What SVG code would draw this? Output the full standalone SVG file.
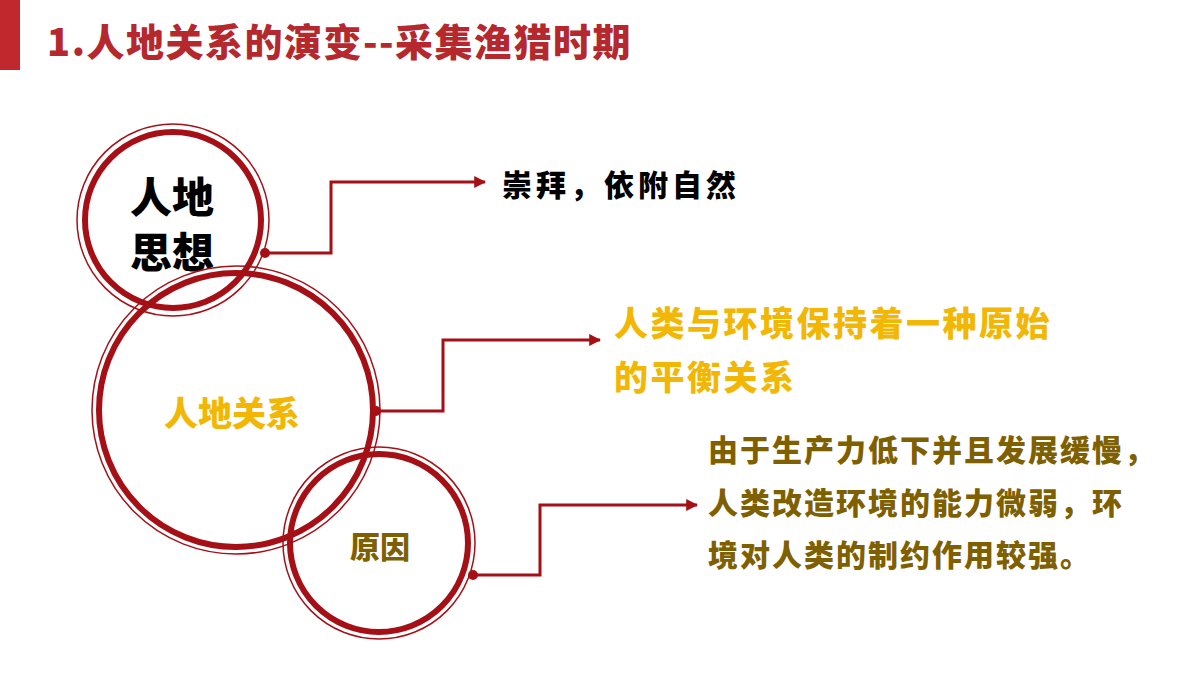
<svg xmlns="http://www.w3.org/2000/svg" width="1200" height="675" viewBox="0 0 1200 675">
<defs>
<style>
text{font-family:"Noto Sans CJK SC","Liberation Sans",sans-serif;font-weight:900}
.thick{fill:none;stroke:#A50F16;stroke-width:6}
.thin{fill:none;stroke:#A50F16;stroke-width:1.5}
.conn{fill:none;stroke:#A50F16;stroke-width:3}
</style>
<marker id="ar" viewBox="0 0 10 10" refX="9" refY="5" markerWidth="4" markerHeight="4" orient="auto"><path d="M0,0L10,5L0,10z" fill="#A50F16"/></marker>
</defs>
<rect width="1200" height="675" fill="#fff"/>
<rect x="0" y="0" width="20" height="70" fill="#C0282D"/>
<text x="47" y="56" font-size="38" letter-spacing="1.5" fill="#B5282D">1.人地关系的演变--采集渔猎时期</text>
<g id="n1"><circle cx="173" cy="220" r="88" class="thick"/><circle cx="173" cy="220" r="96" class="thin"/>
<text x="172" y="213" font-size="42" text-anchor="middle" fill="#000">人地</text><text x="172" y="268" font-size="42" text-anchor="middle" fill="#000">思想</text></g>
<g id="n2"><circle cx="236" cy="410" r="137" class="thick"/><circle cx="236" cy="410" r="144" class="thin"/>
<text x="232" y="426" font-size="34" text-anchor="middle" fill="#F2B705">人地关系</text></g>
<g id="n3"><circle cx="379" cy="543" r="89" class="thick"/><circle cx="379" cy="543" r="96" class="thin"/>
<text x="380" y="558" font-size="30" text-anchor="middle" fill="#7F6000">原因</text></g>
<g id="connectors">
<circle cx="265" cy="253" r="5" fill="#A50F16"/><path class="conn" d="M265,253H331V182H485" marker-end="url(#ar)"/>
<circle cx="376" cy="411" r="5" fill="#A50F16"/><path class="conn" d="M376,411H443V340H600" marker-end="url(#ar)"/>
<circle cx="473" cy="575" r="5" fill="#A50F16"/><path class="conn" d="M473,575H540V505H697" marker-end="url(#ar)"/>
</g>
<g id="t1"><text x="502" y="196" font-size="30" letter-spacing="4" fill="#000">崇拜，依附自然</text></g>
<g id="t2"><text x="614" y="336" font-size="34" letter-spacing="2.5" fill="#F2B705">人类与环境保持着一种原始</text><text x="614" y="390" font-size="34" letter-spacing="2.5" fill="#F2B705">的平衡关系</text></g>
<g id="t3"><text x="708" y="461" font-size="30" letter-spacing="2" fill="#7F6000">由于生产力低下并且发展缓慢，</text><text x="708" y="514" font-size="30" letter-spacing="2" fill="#7F6000">人类改造环境的能力微弱，环</text><text x="708" y="566" font-size="30" letter-spacing="2" fill="#7F6000">境对人类的制约作用较强。</text></g>
</svg>
